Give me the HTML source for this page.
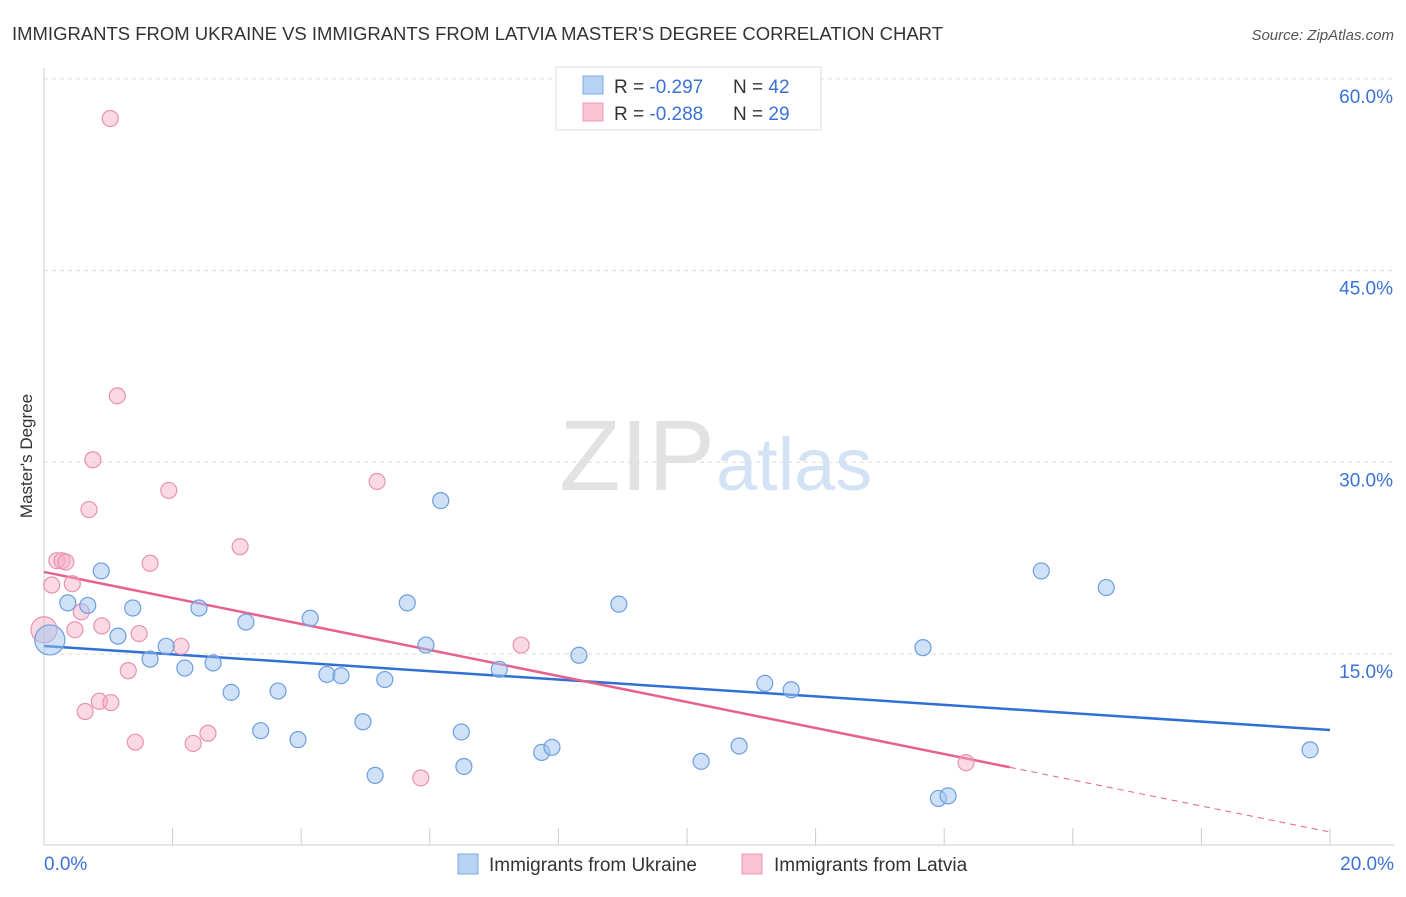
<!DOCTYPE html>
<html><head><meta charset="utf-8"><style>
body{margin:0;background:#fff;font-family:"Liberation Sans",sans-serif;}
svg text{font-family:"Liberation Sans",sans-serif;}
</style></head><body>
<svg id="c" width="1406" height="892" xmlns="http://www.w3.org/2000/svg">
<text x="12" y="40" font-size="18" fill="#333" textLength="931" lengthAdjust="spacingAndGlyphs">IMMIGRANTS FROM UKRAINE VS IMMIGRANTS FROM LATVIA MASTER'S DEGREE CORRELATION CHART</text>
<text x="1394" y="40" font-size="15" fill="#555" font-style="italic" text-anchor="end">Source: ZipAtlas.com</text>
<text x="32" y="456" font-size="17" fill="#333" text-anchor="middle" transform="rotate(-90 32 456)">Master's Degree</text>
<text x="715" y="490" font-size="100" fill="#e2e2e2" text-anchor="end" font-family="Liberation Serif">ZIP</text>
<text x="716" y="490" font-size="74" fill="#d4e2f5">atlas</text>
<g id="grid"></g><g id="axes"></g><g id="trend"></g><g id="pts"></g>
<g>
<rect x="556" y="67" width="265" height="63" fill="#fff" stroke="#ddd"/>
<rect x="583" y="76" width="20" height="18" fill="#b8d2f3" stroke="#7fa8e0"/>
<text x="614" y="93" font-size="19" fill="#333">R = <tspan fill="#3a72d8">-0.297</tspan></text>
<text x="733" y="93" font-size="19" fill="#333">N = <tspan fill="#3a72d8">42</tspan></text>
<rect x="583" y="103" width="20" height="18" fill="#f9c3d3" stroke="#ec9ab3"/>
<text x="614" y="120" font-size="19" fill="#333">R = <tspan fill="#3a72d8">-0.288</tspan></text>
<text x="733" y="120" font-size="19" fill="#333">N = <tspan fill="#3a72d8">29</tspan></text>
</g>
<g>
<rect x="458" y="854" width="20" height="20" fill="#b8d2f3" stroke="#7fa8e0"/>
<text x="489" y="871" font-size="19" fill="#333">Immigrants from Ukraine</text>
<rect x="742" y="854" width="20" height="20" fill="#f9c3d3" stroke="#ec9ab3"/>
<text x="774" y="871" font-size="19" fill="#333">Immigrants from Latvia</text>
</g>
</svg>
<script>
const blueX=[0.09,0.37,0.68,0.89,1.15,1.38,1.65,1.90,2.19,2.41,2.63,2.91,3.14,3.37,3.64,3.95,4.14,4.40,4.62,4.96,5.15,5.30,5.65,5.94,6.17,6.49,6.53,7.08,7.74,7.90,8.32,8.94,10.22,10.81,11.21,11.62,13.67,13.91,14.06,15.51,16.52,19.69];
const blueY=[16.1,19.0,18.8,21.5,16.4,18.6,14.6,15.6,13.9,18.6,14.3,12.0,17.5,9.0,12.1,8.3,17.8,13.4,13.3,9.7,5.5,13.0,19.0,15.7,27.0,8.9,6.2,13.8,7.3,7.7,14.9,18.9,6.6,7.8,12.7,12.2,15.5,3.7,3.9,21.5,20.2,7.5];
const pinkX=[1.03,1.14,0.76,1.94,0.70,5.18,3.05,0.20,0.28,0.34,1.65,0.44,0.12,0.58,0.90,1.48,0.48,0.0,2.13,7.42,1.31,0.86,1.04,0.64,1.42,2.32,2.55,5.86,14.34];
const pinkY=[56.9,35.2,30.2,27.8,26.3,28.5,23.4,22.3,22.3,22.2,22.1,20.5,20.4,18.3,17.2,16.6,16.9,16.9,15.6,15.7,13.7,11.3,11.2,10.5,8.1,8.0,8.8,5.3,6.5];
const blueTrend=[15.63,9.05];
const pinkTrend=[21.42,1.07];
const pinkSolidEnd=15.02;
const yTicks=[15,30,45,60];
const xTickLabels=["0.0%","20.0%"];
const NS="http://www.w3.org/2000/svg";
const X=v=>44+v*64.3, Y=v=>845.7-v*12.78;
function mk(p,t,a){const e=document.createElementNS(NS,t);for(const k in a)e.setAttribute(k,a[k]);p.appendChild(e);return e;}
const grid=document.getElementById('grid'),axes=document.getElementById('axes'),tr=document.getElementById('trend'),pts=document.getElementById('pts');
yTicks.forEach(t=>{
 const l=mk(grid,'line',{x1:44,x2:1394,y1:Y(t),y2:Y(t),stroke:'#ddd','stroke-dasharray':'4 4'});
 
 
 const tx=mk(grid,'text',{x:1393,y:Y(t)+24,'font-size':19,fill:'#3a72d8','text-anchor':'end'});tx.textContent=t.toFixed(1)+'%';
 
 
});
const ax=mk(axes,'line',{x1:44,x2:1394,y1:845,y2:845,stroke:'#ccc'});


const ay=mk(axes,'line',{x1:44,x2:44,y1:68,y2:845,stroke:'#ccc'});


for(let i=0;i<=10;i++){const t=mk(axes,'line',{x1:X(i*2),x2:X(i*2),y1:828,y2:845,stroke:'#ccc'});
 
 }
const xl0=mk(axes,'text',{x:44,y:870,'font-size':19,fill:'#3a72d8'});xl0.textContent=xTickLabels[0];


const xl1=mk(axes,'text',{x:1394,y:870,'font-size':19,fill:'#3a72d8','text-anchor':'end'});xl1.textContent=xTickLabels[1];


const pAt=x=>pinkTrend[0]+(pinkTrend[1]-pinkTrend[0])*x/20;
const bl=mk(tr,'line',{x1:X(0),y1:Y(blueTrend[0]),x2:X(20),y2:Y(blueTrend[1]),stroke:'#2f6fd6','stroke-width':2.5});


const pl=mk(tr,'line',{x1:X(0),y1:Y(pinkTrend[0]),x2:X(pinkSolidEnd),y2:Y(pAt(pinkSolidEnd)),stroke:'#e8608c','stroke-width':2.5});


const pd=mk(tr,'line',{x1:X(pinkSolidEnd),y1:Y(pAt(pinkSolidEnd)),x2:X(20),y2:Y(pinkTrend[1]),stroke:'#e8608c','stroke-width':1,'stroke-dasharray':'6 5'});


pinkX.forEach((x,i)=>{const c=mk(pts,'circle',{cx:X(x),cy:Y(pinkY[i]),r:(i==17?13:8),fill:'rgba(246,170,196,0.45)',stroke:'#e992ae','stroke-width':1.2});
 
 });
blueX.forEach((x,i)=>{const c=mk(pts,'circle',{cx:X(x),cy:Y(blueY[i]),r:(i==0?15:8),fill:'rgba(160,196,240,0.5)',stroke:'#6d9ee0','stroke-width':1.2});
 
 });
</script>
</body></html>
